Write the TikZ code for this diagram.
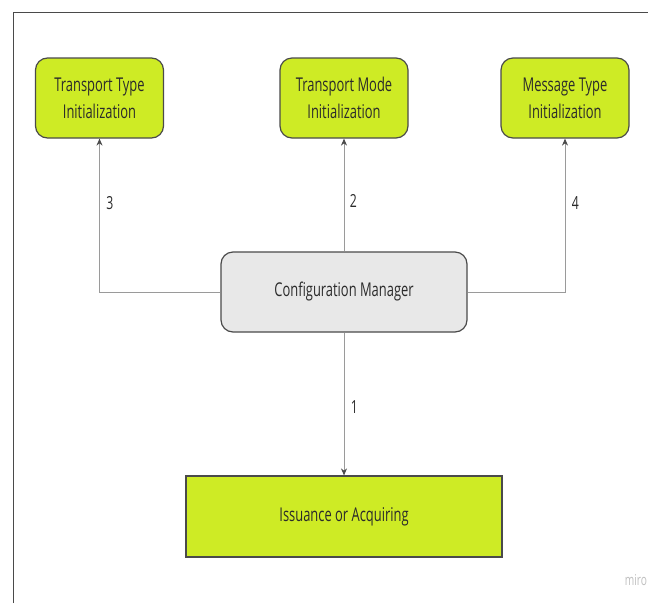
\documentclass[tikz,border=0pt]{standalone}
\usepackage{fontspec}
\setmainfont{Open Sans}[FakeStretch=0.68]
\usetikzlibrary{arrows.meta}
\definecolor{limefill}{HTML}{CEEB25}
\definecolor{greyfill}{HTML}{E8E8E8}
\definecolor{boxline}{HTML}{4A4A4A}
\definecolor{wire}{HTML}{9A9A9A}
\definecolor{ink}{HTML}{2B2B2B}

\begin{document}
\begin{tikzpicture}[x=1pt,y=-1pt]
\useasboundingbox (0,0) rectangle (648,603);

% definitions
\tikzstyle{initbox} = [rectangle, rounded corners=12pt, minimum width=128pt, minimum height=80pt, inner sep=0pt, draw=boxline, line width=1.2pt, fill=limefill, text=ink, align=center, font=\fontsize{19}{27}\selectfont]

\tikzstyle{managerbox} = [initbox, minimum width=246pt, fill=greyfill]

\tikzstyle{targetbox} = [initbox, rounded corners=0pt, minimum width=316pt, minimum height=81pt]

\tikzstyle{arrow} = [-{Stealth[length=7pt, width=6pt, color=boxline]}, draw=wire, line width=0.9pt]

\tikzstyle{step label} = [text=ink, font=\fontsize{18}{22}\selectfont]


% frame
\draw[boxline, line width=1.2pt] (13.5,603) -- (13.5,12.5) -- (648,12.5);


% boxes
\node (tt) [initbox] at (99.5,98) {Transport Type\\Initialization};
\node (tm) [initbox] at (344,98) {Transport Mode\\Initialization};
\node (mt) [initbox] at (565,98) {Message Type\\Initialization};
\node (cm) [managerbox] at (344,292) {Configuration Manager};
\node (ia) [targetbox] at (344,516.5) {Issuance or Acquiring};


% connectors
\draw [arrow] (cm.west) -| node[step label, right, pos=0.79, xshift=3pt] {3} (tt.south);
\draw [arrow] (cm.north) -- node[step label, right, pos=0.45, xshift=2pt] {2} (tm.south);
\draw [arrow] (cm.east) -| node[step label, right, pos=0.79, xshift=3pt] {4} (mt.south);
\draw [arrow] (cm.south) -- node[step label, right, pos=0.52, xshift=3pt] {1} (ia.north);


% watermark
\node (miro) [text=black!25, font=\fontsize{15}{17}\selectfont] at (636,580) {miro};

\end{tikzpicture}
\end{document}
